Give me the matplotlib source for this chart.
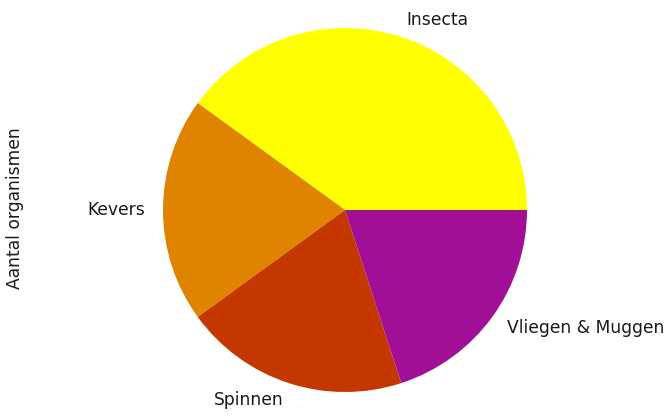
import matplotlib.pyplot as plt

categorieen = ["Insecta", "Kevers", "Spinnen", "Vliegen & Muggen"]
aantallen = [4, 2, 2, 2]
kleuren = ["#FFFF00", "#E08300", "#C43800", "#A10F97"]

W, H = 667, 416
cx, cy, r = 345, 206, 182  # pie centre (from bottom) and radius in pixels
left = 28

fig = plt.figure(figsize=(W / 100, H / 100), dpi=100)
ax = fig.add_axes([left / W, 0, 1 - left / W, 1])
ax.pie(aantallen, labels=categorieen, colors=kleuren,
       textprops={"fontsize": 12.3, "color": "#1a1a1a"})
ax.set_aspect("auto")
ax.set_xlim((left - cx) / r, (W - cx) / r)
ax.set_ylim(-cy / r, (H - cy) / r)
ax.set_ylabel("Aantal organismen", fontsize=12.3, color="#1a1a1a", labelpad=3)

plt.savefig("out.png", dpi=100)
